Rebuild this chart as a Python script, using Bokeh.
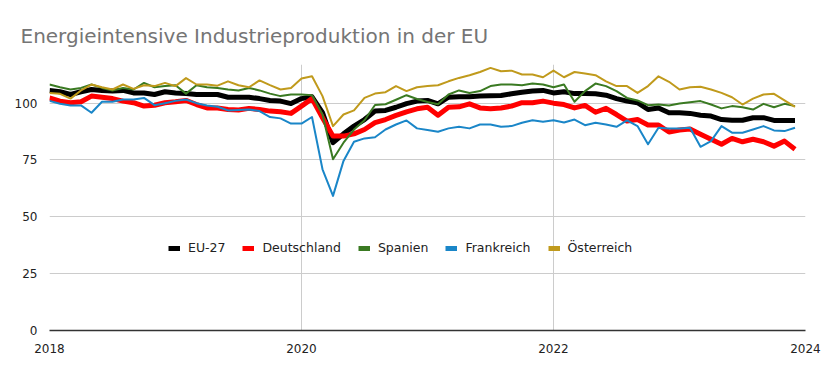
from bokeh.plotting import figure
from bokeh.models import Range1d, FixedTicker, Legend, LegendItem
from bokeh.embed import file_html
from bokeh.resources import INLINE

# ---- data (monthly index values, Jan 2018 .. Dec 2023) ----
start_year = 2018
n_months = 72
x_years = [start_year + i / 12 for i in range(n_months)]

x_ticks = [2018, 2020, 2022, 2024]
x_tick_labels = ["2018", "2020", "2022", "2024"]
y_ticks = [0, 25, 50, 75, 100]

series_names = ["EU-27", "Deutschland", "Spanien", "Frankreich", "Österreich"]

eu27 = [105.6, 105.0, 103.8, 105.0, 106.0, 105.6, 105.3, 105.6, 104.5, 104.5, 103.8, 105.0,
        104.5, 104.2, 103.8, 103.8, 103.8, 102.6, 102.6, 102.6, 102.0, 101.2, 100.9, 99.8,
        102.0, 102.8, 95.8, 82.6, 86.5, 89.9, 92.8, 96.5, 96.8, 98.2, 99.8, 100.9,
        101.2, 99.7, 102.6, 102.8, 102.8, 103.1, 103.2, 103.4, 104.1, 104.8, 105.3, 105.6,
        104.5, 105.0, 104.2, 104.2, 104.1, 103.5, 102.0, 100.9, 100.2, 97.2, 97.9, 95.8,
        95.8, 95.5, 94.7, 94.3, 92.8, 92.5, 92.5, 93.6, 93.6, 92.4, 92.4, 92.4]

deutschland = [102.3, 100.9, 100.2, 100.6, 103.1, 102.6, 102.0, 100.9, 100.2, 98.7, 99.1, 100.2,
               100.6, 101.2, 99.4, 97.9, 97.9, 97.2, 97.0, 97.7, 97.2, 96.5, 96.2, 95.5,
               98.7, 102.0, 93.6, 85.5, 85.5, 86.5, 88.4, 91.4, 92.8, 94.6, 96.2, 97.5,
               98.2, 94.7, 98.2, 98.4, 99.7, 97.9, 97.5, 97.9, 98.7, 100.2, 100.2, 100.9,
               100.0, 99.4, 97.9, 99.0, 96.0, 97.7, 95.0, 92.1, 92.8, 90.4, 90.4, 87.3,
               88.2, 88.6, 86.3, 84.1, 81.9, 84.5, 83.0, 84.1, 83.0, 81.1, 83.3, 79.7]

spanien = [108.2, 107.0, 106.0, 106.7, 108.2, 106.7, 105.6, 106.7, 106.0, 108.9, 107.0, 107.5,
           107.9, 104.2, 107.9, 107.0, 106.7, 106.0, 105.6, 106.7, 105.6, 104.2, 103.1, 103.8,
           103.8, 103.5, 95.0, 75.3, 82.6, 88.4, 92.5, 99.2, 99.5, 101.5, 103.5, 101.8,
           100.5, 99.5, 103.8, 105.6, 104.5, 105.3, 107.5, 108.2, 108.2, 107.9, 108.6, 108.2,
           107.0, 108.2, 100.6, 105.3, 108.6, 107.5, 105.3, 102.3, 101.2, 99.1, 99.4, 99.0,
           99.8, 100.4, 100.9, 99.4, 97.7, 98.7, 98.2, 97.2, 99.7, 98.2, 99.7, 98.7]

frankreich = [101.0, 99.7, 99.0, 99.0, 95.8, 100.6, 100.6, 101.6, 101.6, 102.3, 99.1, 100.0,
              101.0, 101.6, 100.0, 99.0, 98.4, 96.8, 97.0, 97.2, 96.5, 93.9, 93.3, 91.0,
              91.0, 93.9, 70.9, 59.2, 74.6, 83.0, 84.5, 85.0, 88.4, 90.6, 92.4, 88.9,
              88.2, 87.4, 88.9, 89.6, 88.9, 90.6, 90.6, 89.6, 89.9, 91.4, 92.5, 91.8,
              92.5, 91.5, 92.8, 90.3, 91.4, 90.6, 89.6, 92.4, 89.9, 81.9, 89.2, 88.9,
              88.9, 89.2, 80.8, 83.3, 89.9, 87.0, 87.0, 88.4, 89.9, 88.0, 87.7, 89.2]

oesterreich = [104.5, 104.1, 102.0, 105.6, 108.2, 107.0, 106.0, 108.2, 106.3, 107.9, 107.5, 108.9,
               107.5, 111.0, 108.2, 108.2, 107.7, 109.6, 107.9, 107.0, 110.0, 107.9, 106.0, 106.7,
               110.8, 111.8, 103.1, 89.9, 95.0, 96.8, 102.3, 104.2, 104.8, 107.5, 105.3, 107.0,
               107.5, 107.9, 109.6, 111.1, 112.3, 113.7, 115.5, 114.0, 114.3, 112.6, 112.6, 111.4,
               114.3, 111.4, 113.7, 113.0, 112.3, 109.6, 107.5, 107.5, 104.5, 107.5, 111.8, 109.4,
               106.0, 107.0, 107.2, 106.0, 104.5, 102.6, 99.4, 102.0, 103.8, 104.1, 101.2, 98.4]

series_values = [eu27, deutschland, spanien, frankreich, oesterreich]
colors = ["#000000", "#ff0000", "#3a7a22", "#1a86c8", "#c09a1c"]
widths = [5, 5, 2, 2, 2]

FONT = "DejaVu Sans"

p = figure(
    frame_width=756, frame_height=266,
    min_border_left=49, min_border_right=17, min_border_top=64, min_border_bottom=41,
    x_range=Range1d(2018, 2024), y_range=Range1d(0, 117),
    output_backend="svg", toolbar_location=None,
    title="Energieintensive Industrieproduktion in der EU",
)
p.outline_line_color = None
p.background_fill_color = "white"
p.border_fill_color = "white"

p.title.text_font = FONT
p.title.text_font_size = "20px"
p.title.text_font_style = "normal"
p.title.text_color = "#757575"
p.title.align = "left"
p.title.offset = -29
p.title.standoff = 33

# axes
p.xaxis.ticker = FixedTicker(ticks=x_ticks)
p.xaxis.major_label_overrides = {t: l for t, l in zip(x_ticks, x_tick_labels)}
p.xaxis.major_tick_line_color = None
p.xaxis.minor_tick_line_color = None
p.xaxis.axis_line_color = "#333333"
p.xaxis.axis_line_width = 1.5
p.xaxis.major_label_standoff = 7
p.xaxis.major_label_text_font = FONT
p.xaxis.major_label_text_font_size = "12px"
p.xaxis.major_label_text_color = "#222222"

p.yaxis.ticker = FixedTicker(ticks=y_ticks)
p.yaxis.axis_line_color = None
p.yaxis.major_tick_line_color = None
p.yaxis.minor_tick_line_color = None
p.yaxis.major_label_standoff = 6
p.yaxis.major_label_text_font = FONT
p.yaxis.major_label_text_font_size = "12px"
p.yaxis.major_label_text_color = "#222222"

p.xgrid.ticker = FixedTicker(ticks=x_ticks)
p.ygrid.ticker = FixedTicker(ticks=y_ticks)
p.xgrid.grid_line_color = "#cccccc"
p.ygrid.grid_line_color = "#cccccc"

nan = float("nan")
items = []
for name, vals, c, w in zip(series_names, series_values, colors, widths):
    p.line(x_years, vals, line_color=c, line_width=w, line_join="round")
    # legend-only swatch (thick short bar), never visible in the plot area
    swatch = p.line([x_years[0]], [nan], line_color=c, line_width=5)
    items.append(LegendItem(label=name, renderers=[swatch]))

legend = Legend(
    items=items, orientation="horizontal", location=(119, 75),
    glyph_width=12, glyph_height=12, label_height=12, label_standoff=8, spacing=17,
    padding=0, margin=0, border_line_alpha=0, background_fill_alpha=0,
    label_text_font=FONT, label_text_font_size="12.5px", label_text_color="#222222",
)
p.add_layout(legend, "center")

open("out.html", "w").write(file_html(p, INLINE))
